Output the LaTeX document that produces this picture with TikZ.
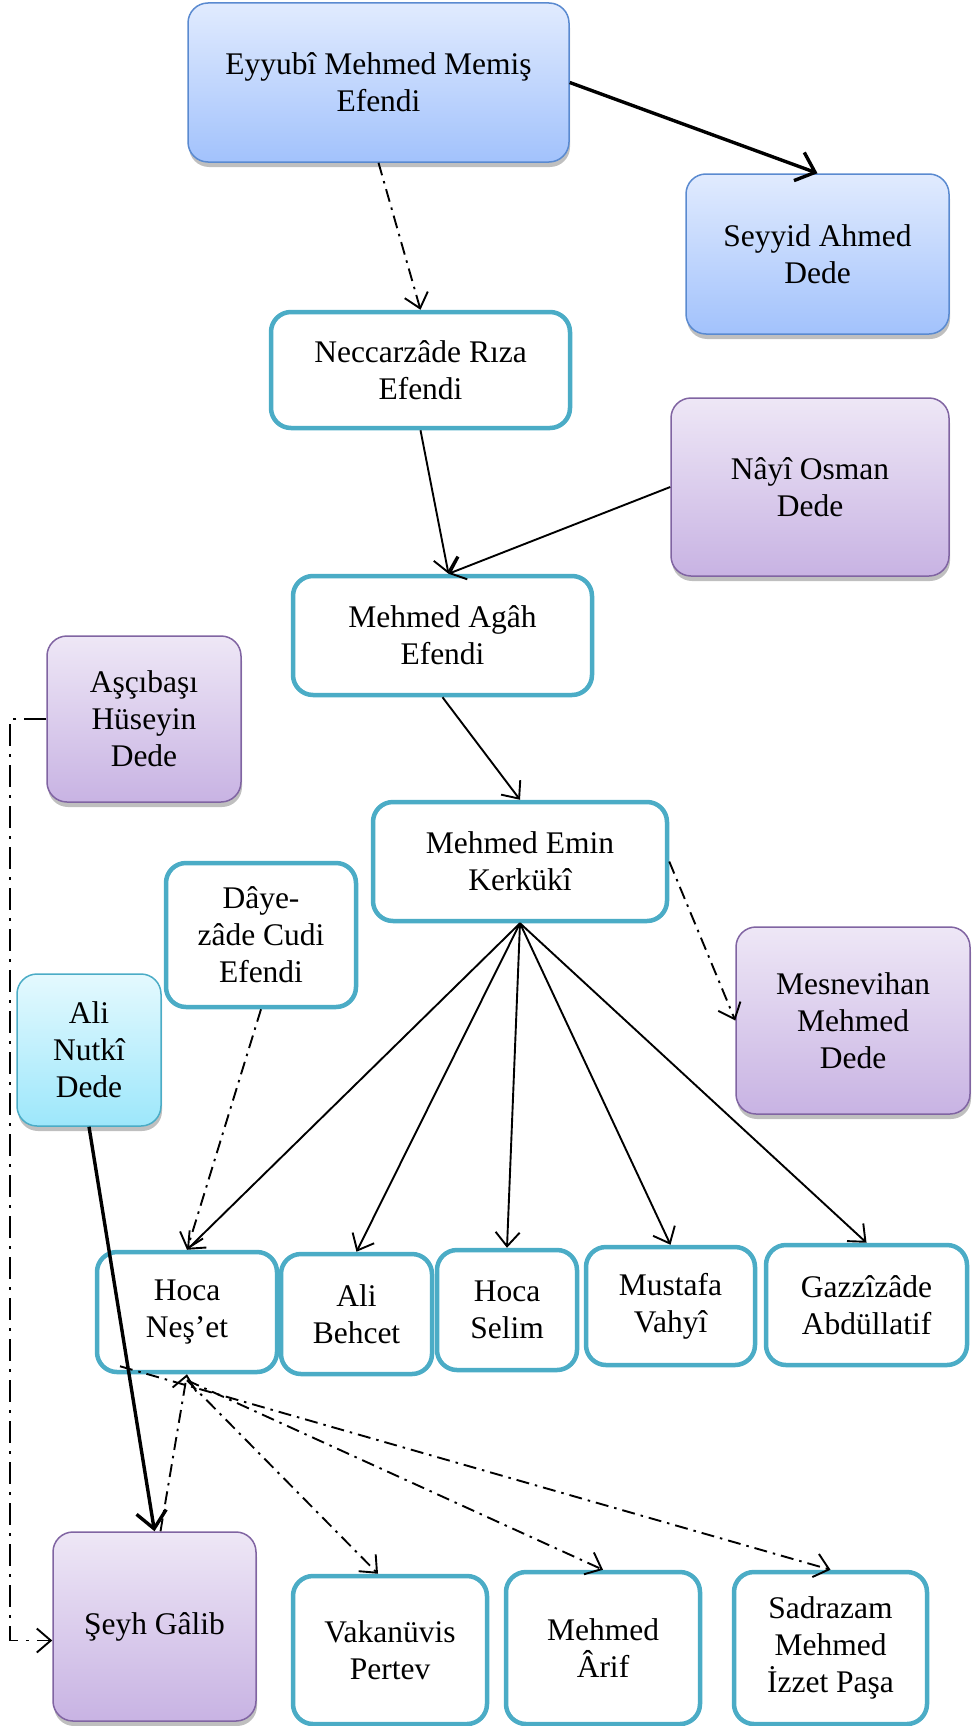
\documentclass[tikz,border=0pt]{standalone}
\usepackage{fontspec}
\setmainfont{Liberation Serif}
\usetikzlibrary{arrows.meta,shadows}
\definecolor{tealline}{HTML}{4BACC6}
\definecolor{bluetop}{HTML}{E1EBFE}
\definecolor{bluebot}{HTML}{A2C2FC}
\definecolor{blueline}{HTML}{5A8AD0}
\definecolor{purptop}{HTML}{EEE7F6}
\definecolor{purpbot}{HTML}{C8B3E3}
\definecolor{purpline}{HTML}{8064A2}
\definecolor{cyantop}{HTML}{E4F9FE}
\definecolor{cyanbot}{HTML}{9DE7FB}
\tikzset{
  box/.style={rounded corners=20pt, align=center, inner sep=2pt,
    font=\fontsize{31.5}{37}\selectfont},
  tealbox/.style={box, draw=tealline, line width=4.5pt, fill=white},
  shadowed/.style={drop shadow={shadow xshift=1pt, shadow yshift=-5pt, fill=black!50, opacity=0.5}},
  bluebox/.style={box, shadowed, draw=blueline, line width=1.5pt, top color=bluetop, bottom color=bluebot},
  purplebox/.style={box, shadowed, draw=purpline, line width=1.5pt, top color=purptop, bottom color=purpbot},
  cyanbox/.style={box, shadowed, draw=tealline, line width=1.5pt, top color=cyantop, bottom color=cyanbot},
  link/.style={->, line width=1.9pt},
  boldlink/.style={->, line width=3.4pt, >={Straight Barb[length=17pt,width=30pt]}},
  dotlink/.style={link, dash pattern=on 13pt off 6pt on 2.5pt off 6pt},
  longdotlink/.style={link, dash pattern=on 22pt off 8pt on 3pt off 8pt}
}
\begin{document}
\begin{tikzpicture}[x=1pt, y=-1pt, >={Straight Barb[length=14pt,width=24pt]}]
  \useasboundingbox (0,0) rectangle (972,1726);

  \node[bluebox, minimum width=381pt, minimum height=159pt] (E) at (378.5,82.5) {Eyyubî Mehmed Memiş\\Efendi};
  \node[bluebox, minimum width=263pt, minimum height=160pt] (S) at (817.5,254) {Seyyid Ahmed\\Dede};
  \node[tealbox, minimum width=299pt, minimum height=116pt] (N) at (420.5,370) {Neccarzâde Rıza\\Efendi};
  \node[purplebox, minimum width=278pt, minimum height=178pt] (O) at (810,487) {Nâyî Osman\\Dede};
  \node[tealbox, minimum width=299pt, minimum height=119pt] (A) at (442.5,635.5) {Mehmed Agâh\\Efendi};
  \node[purplebox, minimum width=194pt, minimum height=166pt] (H) at (144,719) {Aşçıbaşı\\Hüseyin\\Dede};
  \node[tealbox, minimum width=294pt, minimum height=119pt] (K) at (520,861.5) {Mehmed Emin\\Kerkükî};
  \node[tealbox, minimum width=190pt, minimum height=144pt] (D) at (261,935) {Dâye-\\zâde Cudi\\Efendi};
  \node[cyanbox, minimum width=144pt, minimum height=152pt] (AN) at (89,1050) {Ali\\Nutkî\\Dede};
  \node[purplebox, minimum width=234pt, minimum height=187pt] (M) at (853,1020.5) {Mesnevihan\\Mehmed\\Dede};

  \node[tealbox, minimum width=180pt, minimum height=120pt] (HN) at (187,1312) {Hoca\\Neş’et};
  \node[tealbox, minimum width=151pt, minimum height=120pt] (AB) at (356.5,1314) {Ali\\Behcet};
  \node[tealbox, minimum width=140pt, minimum height=120pt] (HS) at (507,1310) {Hoca\\Selim};
  \node[tealbox, minimum width=169pt, minimum height=118pt] (MV) at (670.5,1306) {Mustafa\\Vahyî};
  \node[tealbox, minimum width=201pt, minimum height=120pt] (GA) at (866.5,1305) {Gazzîzâde\\Abdüllatif};

  \node[purplebox, minimum width=203pt, minimum height=189pt] (SG) at (154.5,1626.5) {Şeyh Gâlib};
  \node[tealbox, minimum width=194pt, minimum height=148pt] (VP) at (390,1650) {Vakanüvis\\Pertev};
  \node[tealbox, minimum width=194pt, minimum height=152pt] (MA) at (603,1648) {Mehmed\\Ârif};
  \node[tealbox, minimum width=193pt, minimum height=152pt] (SP) at (830.5,1648) {Sadrazam\\Mehmed\\İzzet Paşa};

  \draw[boldlink] (E.east) -- (S.north);
  \draw[dotlink] (E.south) -- (N.north);
  \draw[link] (N.south) -- ([xshift=6pt]A.north);
  \draw[link] (O.west) -- ([xshift=6pt]A.north);
  \draw[link] (A.south) -- (K.north);
  \draw[dotlink] (K.east) -- (M.west);
  \draw[link] (K.south) -- (HN.north);
  \draw[link] (K.south) -- (AB.north);
  \draw[link] (K.south) -- (HS.north);
  \draw[link] (K.south) -- (MV.north);
  \draw[link] (K.south) -- (GA.north);
  \draw[dotlink] (D.south) -- (HN.north);
  \draw[boldlink] (AN.south) -- (SG.north);
  \draw[longdotlink] (H.west) -- ++(-36,0) |- ([yshift=-14pt]SG.west);
  \draw[dotlink] ([xshift=6pt]SG.north) -- (HN.south);
  \draw[dotlink] ([yshift=-6pt]HN.south) -- ([xshift=-12pt]VP.north);
  \draw[dotlink] ([yshift=-6pt]HN.south) -- (MA.north);
  \draw[dotlink] ([xshift=-67pt,yshift=8pt]HN.south) -- (SP.north);
\end{tikzpicture}
\end{document}
